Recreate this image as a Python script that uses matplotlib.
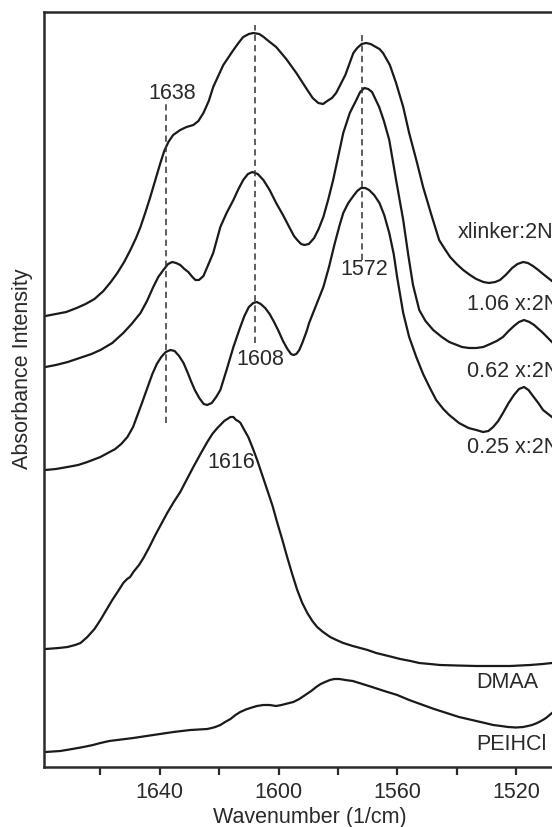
import matplotlib
matplotlib.use("Agg")
import matplotlib.pyplot as plt
from matplotlib.ticker import FixedLocator

plt.rcParams['font.family'] = ['Liberation Sans', 'DejaVu Sans']
plt.rcParams['lines.scale_dashes'] = False

# FTIR spectra (wavenumber in 1/cm, stacked absorbance in a.u.)
wn_top = [1678.5, 1675.0, 1671.5, 1668.0, 1665.0, 1662.0, 1659.0, 1656.5, 1654.3, 1652.0,
          1649.9, 1648.0, 1646.5, 1644.8, 1643.2, 1641.5, 1639.8, 1638.5, 1637.1, 1635.5,
          1633.1, 1631.0, 1628.7, 1627.0, 1625.3, 1623.5, 1622.0, 1620.0, 1618.6, 1615.2,
          1613.5, 1611.9, 1610.0, 1608.5, 1606.5, 1605.0, 1603.8, 1600.8, 1597.4, 1594.0,
          1590.3, 1588.5, 1586.6, 1585.0, 1583.6, 1582.0, 1580.6, 1577.5, 1574.8, 1573.5,
          1572.0, 1570.5, 1569.0, 1567.8, 1566.0, 1564.8, 1562.5, 1560.4, 1558.0, 1556.0,
          1553.5, 1551.3, 1548.5, 1545.9, 1544.0, 1542.2, 1540.0, 1537.8, 1535.5, 1533.4,
          1531.0, 1529.1, 1527.0, 1525.4, 1523.5, 1521.3, 1519.5, 1517.6, 1516.0, 1514.3,
          1512.5, 1510.9, 1507.9, 1504.0]
abs_top = [4.51, 4.53, 4.55, 4.59, 4.63, 4.68, 4.76, 4.85, 4.94, 5.05,
           5.17, 5.29, 5.40, 5.55, 5.70, 5.87, 6.04, 6.16, 6.25, 6.32,
           6.37, 6.40, 6.42, 6.46, 6.54, 6.66, 6.80, 6.93, 7.02, 7.17,
           7.24, 7.30, 7.33, 7.34, 7.33, 7.30, 7.27, 7.20, 7.08, 6.94,
           6.77, 6.69, 6.64, 6.63, 6.66, 6.69, 6.74, 6.92, 7.14, 7.19,
           7.23, 7.24, 7.23, 7.21, 7.18, 7.14, 7.02, 6.84, 6.60, 6.34,
           6.06, 5.80, 5.52, 5.27, 5.18, 5.10, 5.03, 4.97, 4.92, 4.88,
           4.85, 4.84, 4.85, 4.87, 4.92, 4.99, 5.03, 5.05, 5.04, 5.01,
           4.97, 4.93, 4.86, 4.78]

wn_x106 = [1678.5, 1675.0, 1671.0, 1667.0, 1663.0, 1660.0, 1656.0, 1652.3, 1649.5, 1646.5,
           1644.3, 1642.2, 1640.5, 1638.8, 1637.2, 1635.8, 1634.5, 1633.1, 1631.7, 1630.4,
           1629.0, 1628.0, 1626.8, 1625.3, 1624.0, 1622.0, 1619.6, 1617.5, 1615.2, 1613.5,
           1611.9, 1610.3, 1608.8, 1607.0, 1605.1, 1603.0, 1600.8, 1598.5, 1596.4, 1594.8,
           1593.7, 1592.4, 1591.3, 1589.8, 1588.0, 1586.5, 1584.9, 1583.3, 1581.6, 1578.2,
           1576.0, 1573.8, 1572.5, 1571.1, 1569.8, 1568.5, 1566.1, 1564.5, 1562.7, 1560.4,
           1558.0, 1556.3, 1554.7, 1552.6, 1550.5, 1547.9, 1545.0, 1542.5, 1538.2, 1535.8,
           1533.4, 1531.0, 1528.7, 1526.5, 1524.4, 1522.5, 1520.7, 1519.0, 1517.3, 1515.5,
           1513.9, 1512.4, 1510.9, 1507.9, 1504.0]
abs_x106 = [4.00, 4.02, 4.05, 4.09, 4.13, 4.17, 4.24, 4.34, 4.43, 4.54,
            4.66, 4.80, 4.90, 4.97, 5.03, 5.05, 5.04, 5.02, 4.98, 4.95,
            4.90, 4.87, 4.87, 4.91, 5.00, 5.14, 5.40, 5.54, 5.67, 5.78,
            5.87, 5.93, 5.95, 5.93, 5.87, 5.77, 5.64, 5.52, 5.40, 5.31,
            5.27, 5.23, 5.22, 5.23, 5.29, 5.38, 5.50, 5.67, 5.87, 6.34,
            6.54, 6.67, 6.75, 6.79, 6.78, 6.75, 6.60, 6.46, 6.27, 5.87,
            5.47, 5.12, 4.82, 4.57, 4.46, 4.37, 4.30, 4.25, 4.20, 4.19,
            4.19, 4.20, 4.23, 4.26, 4.30, 4.36, 4.41, 4.45, 4.47, 4.45,
            4.42, 4.38, 4.34, 4.25, 4.14]

wn_x062 = [1678.5, 1675.0, 1671.1, 1667.5, 1664.4, 1660.0, 1657.5, 1655.0, 1653.0, 1650.9,
           1649.0, 1647.5, 1646.0, 1644.2, 1642.5, 1641.0, 1639.5, 1638.0, 1636.4, 1635.0,
           1633.5, 1632.0, 1630.7, 1629.5, 1628.2, 1626.7, 1625.2, 1624.0, 1622.5, 1621.0,
           1619.6, 1617.5, 1615.2, 1613.0, 1611.5, 1610.0, 1608.5, 1607.3, 1606.0, 1604.5,
           1603.0, 1601.5, 1600.0, 1598.5, 1597.0, 1595.8, 1595.0, 1594.0, 1593.0, 1592.0,
           1590.5, 1589.7, 1587.3, 1584.9, 1583.0, 1581.2, 1579.5, 1578.2, 1576.5, 1574.8,
           1573.5, 1572.2, 1570.8, 1569.5, 1567.8, 1566.0, 1564.4, 1562.7, 1561.2, 1560.0,
           1558.0, 1556.0, 1553.6, 1551.3, 1549.0, 1546.9, 1544.5, 1542.5, 1539.2, 1536.0,
           1533.4, 1531.1, 1529.3, 1527.7, 1526.0, 1524.4, 1522.5, 1520.7, 1519.0, 1517.3,
           1515.8, 1514.3, 1512.5, 1510.9, 1507.9, 1504.0]
abs_x062 = [2.97, 2.98, 3.00, 3.02, 3.05, 3.10, 3.14, 3.18, 3.23, 3.30,
            3.40, 3.52, 3.64, 3.79, 3.93, 4.03, 4.10, 4.15, 4.17, 4.16,
            4.11, 4.04, 3.95, 3.86, 3.77, 3.69, 3.63, 3.62, 3.64, 3.70,
            3.77, 3.97, 4.20, 4.39, 4.51, 4.60, 4.64, 4.65, 4.63, 4.59,
            4.53, 4.45, 4.36, 4.26, 4.18, 4.13, 4.12, 4.13, 4.17, 4.24,
            4.36, 4.44, 4.62, 4.80, 5.00, 5.22, 5.41, 5.54, 5.64, 5.71,
            5.76, 5.79, 5.79, 5.77, 5.72, 5.64, 5.52, 5.34, 5.13, 4.89,
            4.54, 4.30, 4.10, 3.93, 3.79, 3.67, 3.58, 3.52, 3.44, 3.39,
            3.37, 3.35, 3.36, 3.40, 3.46, 3.54, 3.64, 3.72, 3.78, 3.80,
            3.77, 3.71, 3.64, 3.57, 3.50, 3.40]

wn_dmaa = [1678.5, 1674.0, 1671.1, 1668.5, 1666.7, 1664.4, 1662.0, 1660.0, 1658.0, 1656.0,
           1654.0, 1652.3, 1651.0, 1650.0, 1648.9, 1647.0, 1645.5, 1643.5, 1641.5, 1639.5,
           1637.5, 1635.3, 1633.1, 1631.0, 1628.7, 1626.3, 1624.0, 1622.3, 1620.6, 1618.3,
           1616.2, 1615.2, 1614.3, 1613.6, 1612.8, 1611.9, 1610.2, 1608.7, 1607.2, 1605.5,
           1603.8, 1602.0, 1600.4, 1598.7, 1597.1, 1595.4, 1593.7, 1592.0, 1590.3, 1588.6,
           1587.0, 1585.0, 1582.6, 1580.5, 1578.2, 1575.0, 1572.5, 1570.0, 1567.1, 1563.0,
           1559.0, 1555.5, 1552.6, 1549.0, 1545.6, 1540.0, 1533.4, 1527.0, 1522.0, 1515.3,
           1511.0, 1507.9, 1504.0]
abs_dmaa = [1.18, 1.19, 1.20, 1.22, 1.24, 1.30, 1.38, 1.47, 1.57, 1.67,
            1.76, 1.84, 1.88, 1.90, 1.95, 2.02, 2.09, 2.20, 2.32, 2.43,
            2.54, 2.65, 2.75, 2.87, 3.00, 3.13, 3.25, 3.33, 3.39, 3.46,
            3.50, 3.50, 3.47, 3.46, 3.44, 3.39, 3.30, 3.19, 3.07, 2.92,
            2.77, 2.61, 2.44, 2.27, 2.10, 1.93, 1.77, 1.64, 1.54, 1.46,
            1.40, 1.35, 1.30, 1.27, 1.24, 1.21, 1.19, 1.17, 1.14, 1.11,
            1.08, 1.06, 1.04, 1.03, 1.02, 1.015, 1.01, 1.01, 1.01, 1.02,
            1.03, 1.04, 1.05]

wn_pei = [1678.5, 1673.5, 1669.5, 1665.7, 1662.5, 1660.0, 1657.0, 1654.3, 1648.9, 1642.2,
          1635.4, 1629.7, 1624.0, 1622.5, 1621.3, 1619.6, 1618.0, 1616.2, 1614.5, 1612.9,
          1611.0, 1609.5, 1607.3, 1605.1, 1603.0, 1600.8, 1599.0, 1597.7, 1595.0, 1593.0,
          1591.0, 1589.0, 1587.3, 1585.8, 1584.3, 1582.7, 1581.2, 1579.5, 1577.5, 1575.0,
          1572.8, 1568.5, 1564.4, 1560.0, 1556.0, 1551.8, 1547.6, 1543.4, 1539.2, 1536.3,
          1533.4, 1530.5, 1527.7, 1525.0, 1522.7, 1520.0, 1517.6, 1516.0, 1514.6, 1513.3,
          1512.2, 1511.0, 1509.9, 1508.9, 1507.9, 1504.0]
abs_pei = [0.15, 0.16, 0.18, 0.20, 0.22, 0.24, 0.26, 0.27, 0.29, 0.32,
           0.35, 0.37, 0.38, 0.39, 0.40, 0.42, 0.45, 0.48, 0.52, 0.55,
           0.575, 0.59, 0.61, 0.62, 0.62, 0.61, 0.62, 0.63, 0.65, 0.68,
           0.72, 0.76, 0.80, 0.83, 0.85, 0.87, 0.88, 0.88, 0.87, 0.86,
           0.84, 0.80, 0.76, 0.72, 0.67, 0.625, 0.58, 0.54, 0.50, 0.48,
           0.46, 0.44, 0.42, 0.41, 0.40, 0.395, 0.40, 0.41, 0.42, 0.435,
           0.45, 0.47, 0.49, 0.515, 0.54, 0.62]

# marked band positions with the vertical span of each guide line
bands = [1638, 1608, 1572]
band_lo = [3.44, 4.24, 5.07]
band_hi = [6.64, 7.42, 7.34]

# band labels: (text, wavenumber, absorbance)
band_labels = [("1638", 1635.8, 6.73), ("1608", 1606.1, 4.07),
               ("1572", 1571.1, 4.97), ("1616", 1615.9, 3.05)]

# sample labels
sample_labels = ["xlinker:2N", "1.06 x:2N", "0.62 x:2N", "0.25 x:2N", "DMAA", "PEIHCl"]
sample_label_wn = [1539.5, 1536.5, 1536.5, 1536.5, 1533.4, 1533.4]
sample_label_abs = [5.35, 4.62, 3.95, 3.19, 0.84, 0.22]

ink = "#1a1a1a"
txt = "#2a2a2a"
fs = 15.5

fig = plt.figure(figsize=(5.52, 8.27), dpi=100)
ax = fig.add_axes([44 / 552, 60 / 827, 531.4 / 552, 755 / 827])

for wn, ab in [(wn_top, abs_top), (wn_x106, abs_x106), (wn_x062, abs_x062),
               (wn_dmaa, abs_dmaa), (wn_pei, abs_pei)]:
    ax.plot(wn, ab, color=ink, lw=1.6, solid_joinstyle="round", solid_capstyle="round")

for b, lo, hi in zip(bands, band_lo, band_hi):
    ax.plot([b, b], [lo, hi], color="#333333", lw=1.1, dashes=(4.5, 3.0))

for t, x, y in band_labels:
    ax.text(x, y, t, ha="center", va="center", fontsize=fs, color=txt)

for t, x, y in zip(sample_labels, sample_label_wn, sample_label_abs):
    ax.text(x, y, t, ha="left", va="center", fontsize=fs, color=txt)

ax.set_xlim(1679, 1500)
ax.set_ylim(0, 7.55)
ax.xaxis.set_major_locator(FixedLocator([1640, 1600, 1560, 1520]))
ax.xaxis.set_minor_locator(FixedLocator([1660, 1620, 1580, 1540, 1500]))
ax.set_yticks([])
ax.tick_params(axis="x", which="both", direction="out", length=6, width=1.6,
               color="#2a2a2a", labelsize=fs, labelcolor=txt, pad=5)
for s in ax.spines.values():
    s.set_linewidth(1.8)
    s.set_color("#2a2a2a")

ax.set_xlabel("Wavenumber (1/cm)", fontsize=fs, color=txt, labelpad=3)
ax.set_ylabel("Absorbance Intensity", fontsize=fs, color=txt)
ax.yaxis.set_label_coords(-0.021, (767 - 368.5) / 755)

fig.savefig("out.png", dpi=100)
